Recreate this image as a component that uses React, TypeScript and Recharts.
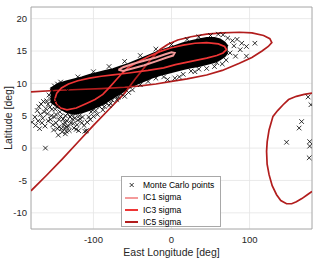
import {
  ComposedChart,
  XAxis,
  YAxis,
  CartesianGrid,
  Area,
  Line,
  Scatter,
  ReferenceArea,
  Label,
} from "recharts";

const FONT = '"Liberation Sans", Arial, Helvetica, sans-serif';

const lonTicks = [-100, 0, 100];
const latTicks = [-10, -5, 0, 5, 10, 15, 20];
const lonDomain: [number, number] = [-180, 180];
const latDomain: [number, number] = [-12.5, 21.8];

// dense part of the Monte Carlo cloud: [lon, latLow, latHigh]
const mcCore: [number, number, number][] = [
  [-155, 7.2, 9.2],
  [-145, 6.3, 9.9],
  [-135, 5.6, 10.3],
  [-125, 5.3, 10.6],
  [-115, 5.5, 10.9],
  [-105, 5.9, 11.3],
  [-95, 6.4, 11.6],
  [-85, 7.0, 11.9],
  [-75, 7.8, 12.2],
  [-65, 8.5, 12.6],
  [-55, 9.3, 13.0],
  [-45, 9.9, 13.5],
  [-35, 10.4, 14.0],
  [-25, 10.9, 14.5],
  [-15, 11.3, 15.0],
  [-5, 11.6, 15.4],
  [5, 11.9, 15.8],
  [15, 12.2, 16.2],
  [25, 12.5, 16.5],
  [35, 12.7, 16.8],
  [45, 13.0, 17.0],
  [55, 13.3, 17.0],
  [62, 13.7, 16.8],
  [68, 14.2, 16.3],
  [72, 14.8, 15.7],
];

// scattered Monte Carlo points outside the dense core: [lon, lat]
const mcPoints: [number, number][] = [
  [-178.7, 4.0], [-161.5, 0.0], [-172, 5.8], [-170, 6.4], [-168, 5.2],
  [-165, 4.6], [-163, 5.6], [-160, 7.3], [-158, 4.2], [-157, 8.2],
  [-156, 6.3], [-154, 5.0], [-153, 8.8], [-152, 3.6], [-150, 4.8],
  [-150, 9.6], [-149, 6.0], [-147, 7.4], [-146, 3.0], [-146, 9.9],
  [-145, 2.0], [-144, 4.4], [-143, 5.6], [-142, 10.2], [-141, 3.0],
  [-140, 8.2], [-139, 6.8], [-138, 3.6], [-137, 3.1], [-136, 5.0],
  [-135, 2.6], [-134, 4.2], [-133, 8.9], [-132, 3.4], [-130, 4.8],
  [-128, 5.1], [-126, 3.8], [-124, 4.6], [-122, 2.9], [-120, 4.3],
  [-120, 11.0], [-118, 5.0], [-115, 3.9], [-111, 2.6], [-109, 2.7],
  [-106, 4.8], [-103, 5.6], [-100, 4.9], [-100, 11.8], [-97, 5.8],
  [-92, 6.4], [-88, 5.9], [-84, 7.0], [-80, 6.6], [-80, 12.6],
  [-76, 7.4], [-72, 8.0], [-68, 7.9], [-60, 8.0], [-60, 13.4],
  [-50, 9.0], [-40, 9.8], [-40, 14.3], [-30, 10.3], [-20, 10.8],
  [-20, 15.3], [-10, 11.0], [-5, 10.6], [0, 16.0], [4.3, 10.8],
  [10, 11.0], [15, 11.4], [20, 16.8], [25, 11.9], [30, 11.8],
  [35, 12.2], [35, 17.2], [45, 12.3], [50, 17.4], [55, 12.6],
  [58, 13.2], [60, 17.6], [65, 13.0], [66, 17.5], [70, 13.6],
  [72, 17.0], [75, 14.7], [78, 16.6], [80, 15.8], [82, 14.2],
  [84, 16.8], [88, 15.2], [90, 16.2], [96, 15.7], [96, 14.2],
  [106.8, 16.2], [147.4, 0.9], [163.5, 3.1], [166.7, 4.1], [175, 7.9],
  [178.6, 6.7], [177, 1.0], [177, 0.3], [176.4, -1.5],
  [-175, 4.8], [-174, 3.5], [-171, 4.2], [-169, 3.0], [-167, 6.8],
  [-166, 3.9], [-164, 7.2], [-162, 3.4], [-161, 6.1], [-159, 5.3],
  [-158, 6.8], [-155, 4.4], [-155, 7.6], [-153, 6.0], [-151, 2.8],
  [-151, 7.0], [-148, 3.9], [-148, 5.2], [-146, 6.5], [-144, 3.3],
  [-142, 4.9], [-140, 2.5], [-139, 4.5], [-137, 4.0], [-136, 2.2],
  [-134, 3.3], [-133, 5.3], [-131, 2.7], [-129, 3.9], [-127, 4.5],
  [-125, 3.1], [-123, 5.3], [-121, 3.6], [-119, 2.7], [-117, 4.5],
  [-114, 4.8], [-112, 3.5], [-108, 4.0], [-104, 4.4], [-101, 5.9],
  [-95, 5.2], [-90, 6.8], [-86, 6.4], [-82, 7.6], [-78, 6.9],
  [-74, 8.2], [-70, 7.5], [-65, 8.4], [-55, 8.6],
];

const ic1Curve: [number, number][] = [
  [-68, 12.1], [-62, 12.5], [-50, 13.0], [-35, 13.5], [-20, 14.0],
  [-8, 14.5], [0, 14.8], [4, 14.7], [2, 14.3], [-6, 14.0],
  [-20, 13.4], [-35, 12.8], [-50, 12.3], [-62, 11.9], [-68, 12.1],
];

const ic3Curve: [number, number][] = [
  [-149.6, 7.5], [-147, 8.5], [-141, 9.3], [-132, 9.9], [-120, 10.4],
  [-105, 10.8], [-90, 11.1], [-75, 11.3], [-55, 11.6], [-30, 12.0],
  [-10, 12.4], [5, 12.9], [25, 13.4], [45, 13.9], [58, 14.3],
  [66, 14.7], [70.5, 15.2], [68, 15.7], [60, 16.1], [45, 16.3],
  [30, 16.2], [15, 15.9], [0, 15.5], [-15, 14.9], [-30, 14.1],
  [-45, 13.2], [-56, 12.4], [-63, 11.6], [-70.5, 10.6], [-80, 9.3],
  [-88, 8.3], [-98, 7.5], [-109, 6.9], [-122, 6.2], [-134, 5.9],
  [-142, 6.2], [-147, 6.7], [-149.6, 7.5],
];

// IC5 wraps across the date line, so it is drawn in two pieces
const ic5Main: [number, number][] = [
  [-180, 8.7], [-150, 8.9], [-120, 9.05], [-90, 9.2], [-60, 9.4],
  [-40, 9.6], [-20, 9.9], [0, 10.3], [20, 10.7], [45, 11.3],
  [65, 12.0], [87, 13.1], [103, 14.0], [116, 15.0], [124, 15.7],
  [128.5, 16.3], [126, 16.9], [118, 17.4], [103, 17.8], [87, 17.9],
  [65, 17.8], [45, 17.6], [25, 17.2], [8, 16.7], [-5, 16.0],
  [-15, 15.2], [-25, 13.9], [-35, 12.4], [-47, 10.6], [-60, 8.5],
  [-80, 6.0], [-100, 3.5], [-120, 0.9], [-140, -1.7], [-160, -4.2],
  [-180, -6.6],
];

const ic5Wrap: [number, number][] = [
  [180, 8.5], [170, 8.3], [160, 8.0], [150, 7.5], [143, 6.7],
  [136, 5.8], [130, 4.9], [125, 2.8], [122.6, 1.0], [121.8, -0.5],
  [122.5, -2.5], [125, -4.1], [129, -5.8], [134.6, -7.2], [140, -8.1],
  [147.4, -8.6], [154, -8.6], [160, -8.3], [167, -7.8], [174, -7.2],
  [180, -6.7],
];

const IC1_COLOR = "#f49a9a";
const IC3_COLOR = "#ee3535";
const IC5_COLOR = "#b21d1d";

const toXY = (pts: [number, number][]) => pts.map(([x, y]) => ({ x, y }));

function XMark(props: any) {
  const { cx, cy } = props;
  if (cx == null || cy == null) return null;
  const r = 2.3;
  return (
    <path
      d={`M${cx - r},${cy - r}L${cx + r},${cy + r}M${cx - r},${cy + r}L${cx + r},${cy - r}`}
      stroke="#000"
      strokeWidth={0.8}
      fill="none"
    />
  );
}

const legendItems = [
  { label: "Monte Carlo points", kind: "mark", color: "#000" },
  { label: "IC1 sigma", kind: "line", color: IC1_COLOR },
  { label: "IC3 sigma", kind: "line", color: IC3_COLOR },
  { label: "IC5 sigma", kind: "line", color: IC5_COLOR },
];

function LegendBox() {
  return (
    <div
      style={{
        position: "absolute",
        left: 121,
        top: 176,
        width: 100,
        height: 51,
        boxSizing: "border-box",
        border: "1px solid #a8a8a8",
        background: "#fff",
        paddingTop: 2,
        fontFamily: FONT,
        fontSize: 8.5,
        lineHeight: "12.4px",
        color: "#000",
      }}
    >
      {legendItems.map((it) => (
        <div
          key={it.label}
          style={{ height: 12.4, display: "flex", alignItems: "center", whiteSpace: "nowrap" }}
        >
          <svg width={19} height={10} style={{ marginLeft: 1, flex: "none" }}>
            {it.kind === "line" ? (
              <line x1={2} x2={15} y1={5} y2={5} stroke={it.color} strokeWidth={2} />
            ) : (
              <path d="M6.7,3L10.7,7M6.7,7L10.7,3" stroke="#000" strokeWidth={0.8} fill="none" />
            )}
          </svg>
          <span style={{ marginLeft: 1 }}>{it.label}</span>
        </div>
      ))}
    </div>
  );
}

export default function App() {
  const core = mcCore.map(([x, lo, hi]) => ({ x, range: [lo, hi] }));
  return (
    <div
      style={{
        position: "absolute",
        left: 0,
        top: 0,
        width: 314,
        height: 259,
        background: "#fff",
        fontFamily: FONT,
      }}
    >
      <ComposedChart
        width={314}
        height={259}
        margin={{ top: 7, right: 2, bottom: 0, left: 0 }}
        style={{ fontFamily: FONT }}
      >
        <CartesianGrid stroke="#e4e4e4" strokeWidth={0.8} />
        <XAxis
          type="number"
          dataKey="x"
          domain={lonDomain}
          ticks={lonTicks}
          allowDataOverflow
          height={30}
          tickLine={false}
          axisLine={false}
          tickSize={6}
          tickMargin={1}
          tick={{ fontSize: 9.5, fill: "#262626", fontFamily: FONT }}
        >
          <Label
            value="East Longitude [deg]"
            position="insideBottom"
            offset={3}
            style={{ fontSize: 10.5, fill: "#262626", fontFamily: FONT }}
          />
        </XAxis>
        <YAxis
          type="number"
          dataKey="y"
          domain={latDomain}
          ticks={latTicks}
          allowDataOverflow
          width={31}
          tickLine={false}
          axisLine={false}
          tickSize={4}
          tickMargin={0}
          tick={{ fontSize: 9.5, fill: "#262626", fontFamily: FONT }}
        >
          <Label
            value="Latitude [deg]"
            angle={-90}
            position="insideLeft"
            offset={8}
            style={{ fontSize: 10.5, fill: "#262626", fontFamily: FONT, textAnchor: "middle" }}
          />
        </YAxis>
        <Area
          data={core}
          dataKey="range"
          type="linear"
          fill="#000"
          fillOpacity={1}
          stroke="#000"
          strokeWidth={2}
          isAnimationActive={false}
        />
        <Scatter
          data={toXY(mcPoints)}
          dataKey="y"
          shape={<XMark />}
          isAnimationActive={false}
        />
        <Line
          data={toXY(ic5Main)}
          dataKey="y"
          type="linear"
          stroke={IC5_COLOR}
          strokeWidth={1.7}
          dot={false}
          isAnimationActive={false}
        />
        <Line
          data={toXY(ic5Wrap)}
          dataKey="y"
          type="linear"
          stroke={IC5_COLOR}
          strokeWidth={1.7}
          dot={false}
          isAnimationActive={false}
        />
        <Line
          data={toXY(ic3Curve)}
          dataKey="y"
          type="linear"
          stroke={IC3_COLOR}
          strokeWidth={1.7}
          dot={false}
          isAnimationActive={false}
        />
        <Line
          data={toXY(ic1Curve)}
          dataKey="y"
          type="linear"
          stroke={IC1_COLOR}
          strokeWidth={2}
          dot={false}
          isAnimationActive={false}
        />
        <ReferenceArea
          x1={lonDomain[0]}
          x2={lonDomain[1]}
          y1={latDomain[0]}
          y2={latDomain[1]}
          fill="none"
          stroke="#a0a0a0"
          strokeWidth={0.8}
        />
      </ComposedChart>
      <LegendBox />
    </div>
  );
}
